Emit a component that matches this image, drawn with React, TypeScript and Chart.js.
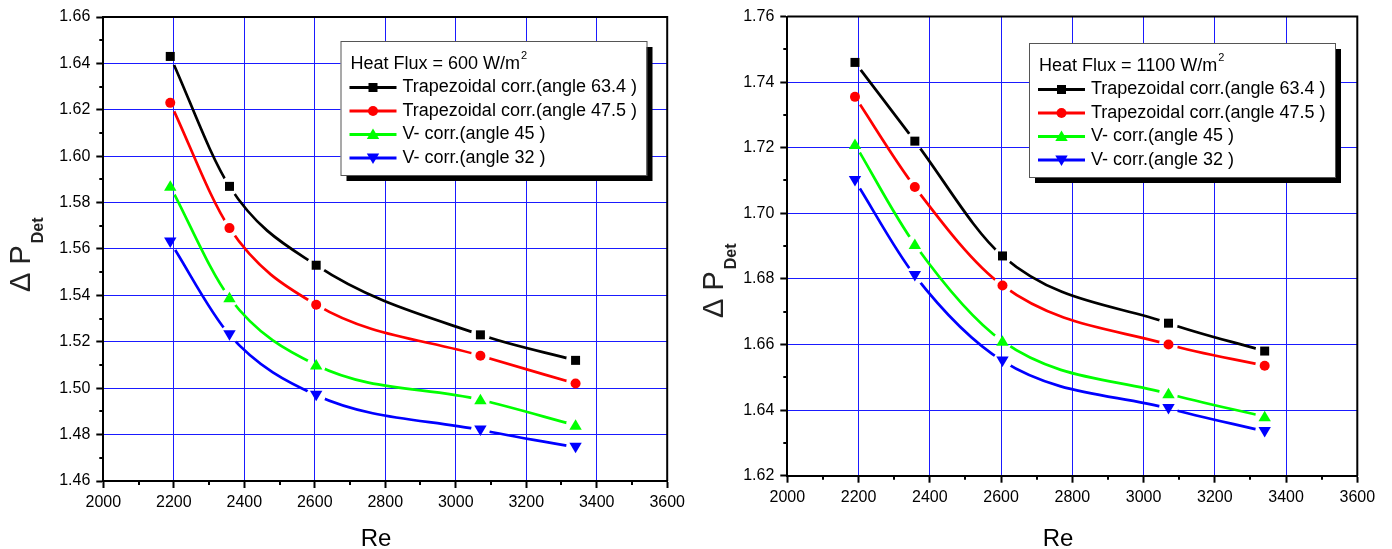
import React, { useEffect, useRef } from 'react';
import { Chart, registerables } from 'chart.js';

Chart.register(...registerables);

const FONT = '"Liberation Sans", Arial, sans-serif';

// ---------- data ----------
const reValues = [2190, 2358, 2604, 3070, 3340];

const seriesLabels = [
  'Trapezoidal corr.(angle 63.4 )',
  'Trapezoidal corr.(angle 47.5 )',
  'V- corr.(angle 45 )',
  'V- corr.(angle 32 )',
];
const seriesColors = ['#000000', '#ff0000', '#00ff00', '#0000ff'];
const seriesMarkers = ['square', 'circle', 'triangleUp', 'triangleDown'];

// Heat flux 600 W/m2
const trap634_600 = [1.643, 1.587, 1.553, 1.523, 1.512];
const trap475_600 = [1.623, 1.569, 1.536, 1.514, 1.502];
const v45_600 = [1.587, 1.539, 1.510, 1.495, 1.484];
const v32_600 = [1.563, 1.523, 1.497, 1.482, 1.4745];

// Heat flux 1100 W/m2
const trap634_1100 = [1.746, 1.722, 1.687, 1.6665, 1.658];
const trap475_1100 = [1.7355, 1.708, 1.678, 1.660, 1.6535];
const v45_1100 = [1.721, 1.6905, 1.661, 1.645, 1.638];
const v32_1100 = [1.710, 1.681, 1.655, 1.6405, 1.6335];

const xMin = 2000;
const xMax = 3600;
const xStep = 200;
const yRange600 = [1.46, 1.66];
const yRange1100 = [1.62, 1.76];
const yStep = 0.02;

const legendTitle600 = 'Heat Flux = 600 W/m';
const legendTitle1100 = 'Heat Flux = 1100 W/m';
const xTitle = 'Re';

// ---------- helpers ----------
function drawMarker(ctx: CanvasRenderingContext2D, kind: string, x: number, y: number, color: string) {
  ctx.save();
  ctx.fillStyle = color;
  ctx.beginPath();
  if (kind === 'square') {
    ctx.rect(x - 4.5, y - 4.5, 9, 9);
  } else if (kind === 'circle') {
    ctx.arc(x, y, 5, 0, Math.PI * 2);
  } else if (kind === 'triangleUp') {
    ctx.moveTo(x, y - 6);
    ctx.lineTo(x + 6.2, y + 4.5);
    ctx.lineTo(x - 6.2, y + 4.5);
    ctx.closePath();
  } else {
    ctx.moveTo(x, y + 6);
    ctx.lineTo(x + 6.2, y - 4.5);
    ctx.lineTo(x - 6.2, y - 4.5);
    ctx.closePath();
  }
  ctx.fill();
  ctx.restore();
}

const gapPlugin = {
  id: 'gapPlugin',
  beforeDatasetDraw(chart: any, args: any) {
    const ds = chart.data.datasets[args.index];
    if (!ds.gapLine) return;
    const ctx = chart.ctx;
    ctx.save();
    ctx.beginPath();
    ctx.rect(0, 0, chart.width, chart.height);
    const R = 9.5;
    args.meta.data.forEach((p: any) => {
      ctx.moveTo(p.x + R, p.y);
      ctx.arc(p.x, p.y, R, 0, Math.PI * 2);
    });
    ctx.clip('evenodd');
  },
  afterDatasetDraw(chart: any, args: any) {
    const ds = chart.data.datasets[args.index];
    if (!ds.gapLine) return;
    chart.ctx.restore();
  },
};

const markerPlugin = {
  id: 'markerPlugin',
  afterDatasetsDraw(chart: any) {
    const ctx = chart.ctx;
    chart.data.datasets.forEach((ds: any, i: number) => {
      if (!ds.markerKind) return;
      const meta = chart.getDatasetMeta(i);
      meta.data.forEach((p: any) => drawMarker(ctx, ds.markerKind, p.x, p.y, ds.markerColor));
    });
  },
};

const decorPlugin = {
  id: 'decorPlugin',
  afterDraw(chart: any, _args: any, opts: any) {
    const ctx: CanvasRenderingContext2D = chart.ctx;
    const area = chart.chartArea;
    const xs = chart.scales.x;
    const ys = chart.scales.y;
    ctx.save();
    // frame (top, right)
    ctx.strokeStyle = '#000';
    ctx.lineWidth = 2;
    ctx.beginPath();
    ctx.moveTo(area.left, area.top);
    ctx.lineTo(area.right, area.top);
    ctx.lineTo(area.right, area.bottom);
    ctx.stroke();
    // minor ticks
    ctx.beginPath();
    for (let v = xMin + xStep / 2; v < xMax; v += xStep) {
      const px = Math.round(xs.getPixelForValue(v));
      ctx.moveTo(px, area.bottom);
      ctx.lineTo(px, area.bottom + 4);
    }
    for (let v = opts.yMin + yStep / 2; v < opts.yMax; v += yStep) {
      const py = Math.round(ys.getPixelForValue(v));
      ctx.moveTo(area.left, py);
      ctx.lineTo(area.left - 4, py);
    }
    ctx.stroke();

    // x title
    ctx.fillStyle = '#000';
    ctx.font = `24px ${FONT}`;
    ctx.textAlign = 'center';
    ctx.textBaseline = 'alphabetic';
    ctx.fillText(xTitle, opts.xTitleX, opts.xTitleY);

    // y title  (Δ P with subscript Det)
    ctx.save();
    ctx.translate(opts.yTitleX, opts.yTitleY);
    ctx.rotate(-Math.PI / 2);
    ctx.textAlign = 'left';
    ctx.fillStyle = '#222';
    ctx.font = `29px ${FONT}`;
    const main = '\u0394 P';
    ctx.fillText(main, 0, 0);
    const w = ctx.measureText(main).width;
    ctx.font = `bold 16px ${FONT}`;
    ctx.fillText('Det', w + 2, 13);
    ctx.restore();

    // legend
    const bx = opts.legendX;
    const by = opts.legendY;
    const bw = 306;
    const bh = 134;
    ctx.fillStyle = '#000';
    ctx.fillRect(bx + 6, by + 6, bw, bh);
    ctx.fillStyle = '#fff';
    ctx.fillRect(bx, by, bw, bh);
    ctx.strokeStyle = '#555';
    ctx.lineWidth = 1;
    ctx.strokeRect(bx + 0.5, by + 0.5, bw, bh);

    ctx.fillStyle = '#000';
    ctx.textAlign = 'left';
    ctx.textBaseline = 'middle';
    ctx.font = `18px ${FONT}`;
    ctx.fillText(opts.legendTitle, bx + 10, by + 23);
    const tw = ctx.measureText(opts.legendTitle).width;
    ctx.font = `11px ${FONT}`;
    ctx.fillText('2', bx + 10 + tw + 1, by + 15);

    ctx.font = `18px ${FONT}`;
    seriesLabels.forEach((lab, i) => {
      const ry = by + 46.5 + 23.5 * i;
      ctx.strokeStyle = seriesColors[i];
      ctx.lineWidth = 3;
      ctx.beginPath();
      ctx.moveTo(bx + 9, ry);
      ctx.lineTo(bx + 56, ry);
      ctx.stroke();
      drawMarker(ctx, seriesMarkers[i], bx + 32.5, ry, seriesColors[i]);
      ctx.fillStyle = '#000';
      ctx.fillText(lab, bx + 62, ry);
    });
    ctx.restore();
  },
};

function buildConfig(seriesValues: number[][], yRange: number[], layout: any, legendTitle: string): any {
  const datasets: any[] = [];
  seriesValues.forEach((vals, i) => {
    const pts = reValues.map((x, j) => ({ x, y: vals[j] }));
    datasets.push({
      label: seriesLabels[i],
      data: pts,
      borderColor: seriesColors[i],
      backgroundColor: seriesColors[i],
      borderWidth: 2.7,
      pointRadius: 0,
      cubicInterpolationMode: 'monotone',
      gapLine: true,
      markerKind: seriesMarkers[i],
      markerColor: seriesColors[i],
    });
  });
  const tickFont = { family: FONT, size: 16 };
  return {
    type: 'line',
    data: { datasets },
    options: {
      responsive: false,
      animation: false,
      events: [],
      layout: { padding: { left: 0, right: layout.padRight, top: layout.padTop, bottom: 0 } },
      scales: {
        x: {
          type: 'linear',
          min: xMin,
          max: xMax,
          ticks: { stepSize: xStep, font: tickFont, color: '#000', padding: 5, maxRotation: 0, autoSkip: false, callback: (v: any) => String(v) },
          grid: { color: '#1a1aff', lineWidth: 1, tickLength: 7, tickColor: '#000', tickWidth: 2 },
          border: { color: '#000', width: 2 },
          afterFit: (s: any) => { s.height = layout.xHeight; },
        },
        y: {
          type: 'linear',
          min: yRange[0],
          max: yRange[1],
          ticks: { stepSize: yStep, font: tickFont, color: '#000', padding: 6, autoSkip: false, callback: (v: any) => Number(v).toFixed(2) },
          grid: { color: '#1a1aff', lineWidth: 1, tickLength: 7, tickColor: '#000', tickWidth: 2 },
          border: { color: '#000', width: 2 },
          afterFit: (s: any) => { s.width = layout.yWidth; },
        },
      },
      plugins: {
        legend: { display: false },
        tooltip: { enabled: false },
        decorPlugin: {
          yMin: yRange[0],
          yMax: yRange[1],
          xTitleX: layout.xTitleX,
          xTitleY: layout.xTitleY,
          yTitleX: layout.yTitleX,
          yTitleY: layout.yTitleY,
          legendX: layout.legendX,
          legendY: layout.legendY,
          legendTitle,
        },
      },
    },
    plugins: [gapPlugin, markerPlugin, decorPlugin],
  };
}

function ChartCanvas({ width, height, config }: { width: number; height: number; config: any }) {
  const ref = useRef<HTMLCanvasElement | null>(null);
  useEffect(() => {
    if (!ref.current) return;
    const chart = new Chart(ref.current, config);
    return () => chart.destroy();
  }, []);
  return <canvas ref={ref} width={width} height={height} style={{ width, height, display: 'block' }} />;
}

export default function App() {
  const leftCfg = buildConfig(
    [trap634_600, trap475_600, v45_600, v32_600],
    yRange600,
    { padRight: 14.5, padTop: 17, xHeight: 68, yWidth: 103.3, xTitleX: 376, xTitleY: 546, yTitleX: 30, yTitleY: 292, legendX: 340.5, legendY: 41 },
    legendTitle600
  );
  const rightCfg = buildConfig(
    [trap634_1100, trap475_1100, v45_1100, v32_1100],
    yRange1100,
    { padRight: 34.7, padTop: 16.5, xHeight: 73.3, yWidth: 97.3, xTitleX: 368, xTitleY: 546, yTitleX: 33, yTitleY: 318, legendX: 339, legendY: 43 },
    legendTitle1100
  );
  return (
    <div style={{ position: 'absolute', left: 0, top: 0, width: 1392, height: 549, background: '#fff' }}>
      <div style={{ position: 'absolute', left: 0, top: 0 }}>
        <ChartCanvas width={690} height={549} config={leftCfg} />
      </div>
      <div style={{ position: 'absolute', left: 690, top: 0 }}>
        <ChartCanvas width={702} height={549} config={rightCfg} />
      </div>
    </div>
  );
}
